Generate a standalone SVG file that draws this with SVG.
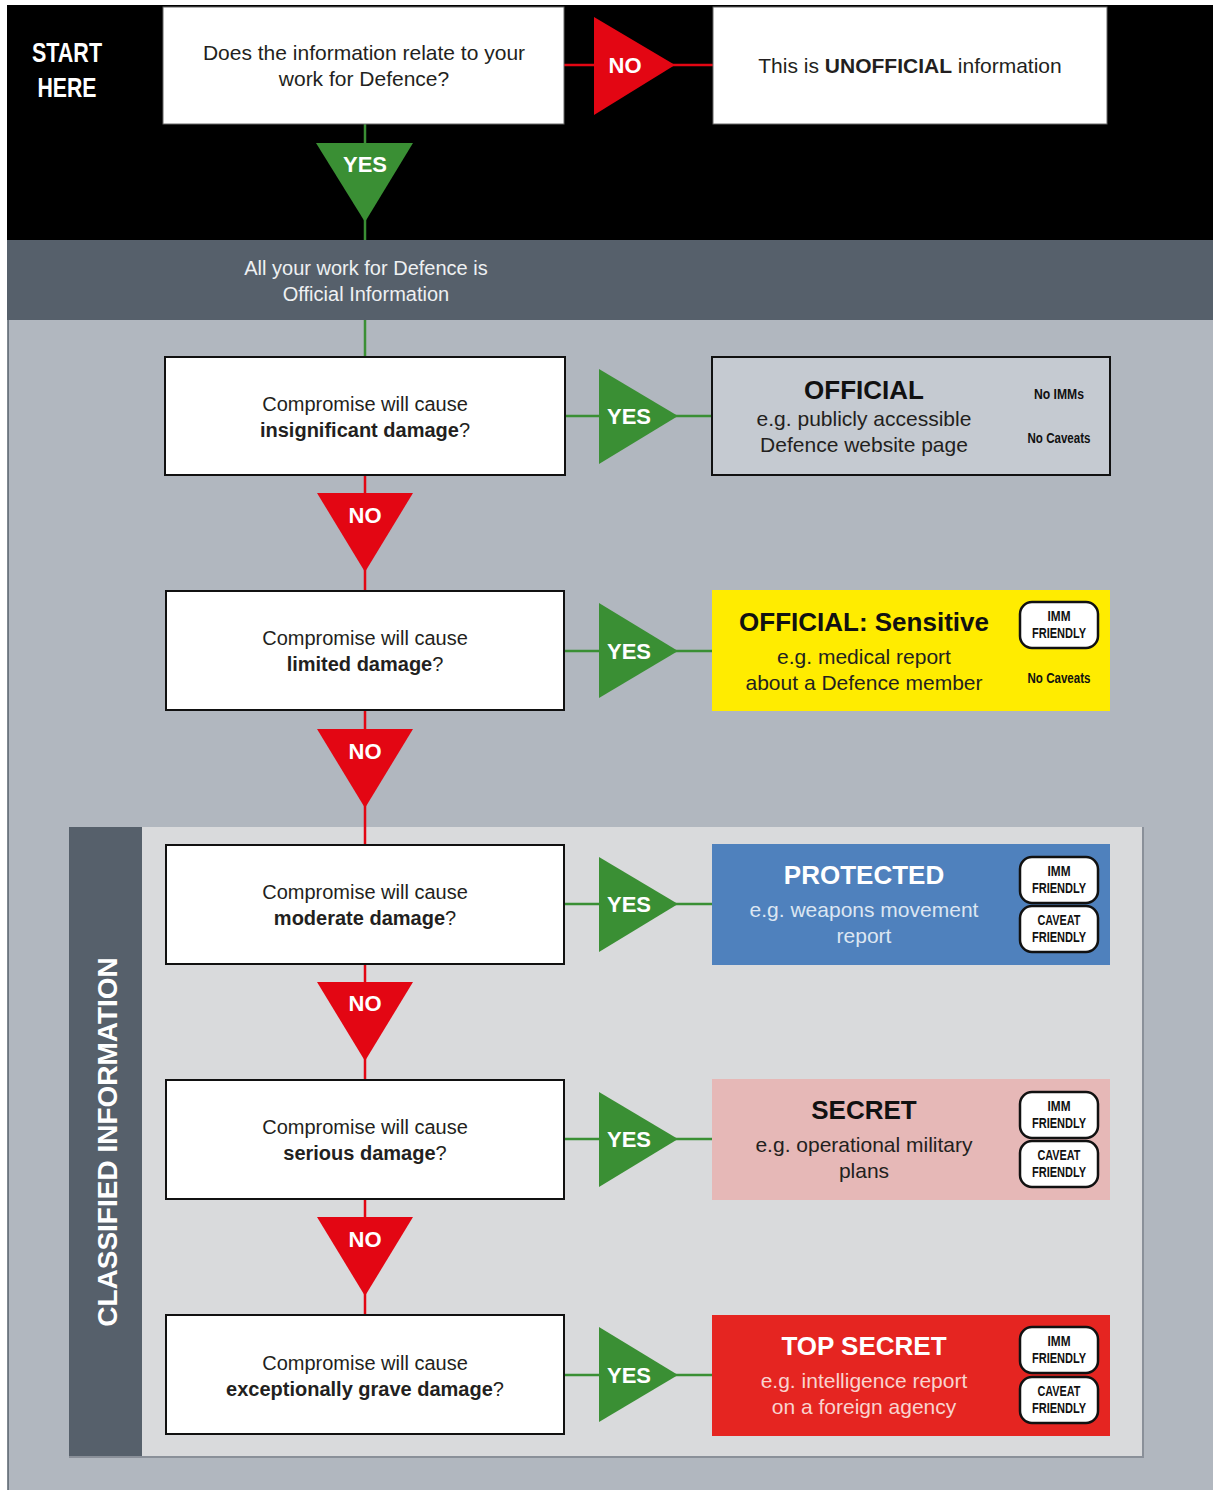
<svg xmlns="http://www.w3.org/2000/svg" width="1213" height="1490" viewBox="0 0 1213 1490">
<style>
.q{font-family:"Liberation Sans",Arial,sans-serif;font-size:20px;fill:#231f20;text-anchor:middle}
.b{font-weight:bold}
.lbl{font-family:"Liberation Sans",Arial,sans-serif;font-size:22px;font-weight:bold;fill:#fff;text-anchor:middle}
.title{font-family:"Liberation Sans",Arial,sans-serif;font-size:26px;font-weight:bold;text-anchor:middle}
.ex{font-family:"Liberation Sans",Arial,sans-serif;font-size:21px;text-anchor:middle}
.sm{font-family:"Liberation Sans",Arial,sans-serif;font-size:14px;font-weight:bold;fill:#111;text-anchor:middle}
.qbox{fill:#fff;stroke:#111;stroke-width:2}
.badge{fill:#fff;stroke:#111;stroke-width:2.5}
.yes{fill:#3a8f34}
.no{fill:#e30613}
.gl{stroke:#3a8f34;stroke-width:2.5;fill:none}
.rl{stroke:#e30613;stroke-width:2.5;fill:none}
</style>
<defs>
<g id="badgeImm">
<rect x="0" y="0" width="78" height="46" rx="12" class="badge"/>
<text x="39" y="19" class="sm" textLength="23" lengthAdjust="spacingAndGlyphs">IMM</text>
<text x="39" y="36" class="sm" textLength="54" lengthAdjust="spacingAndGlyphs">FRIENDLY</text>
</g>
<g id="badgeCav">
<rect x="0" y="0" width="78" height="46" rx="12" class="badge"/>
<text x="39" y="19" class="sm" textLength="43" lengthAdjust="spacingAndGlyphs">CAVEAT</text>
<text x="39" y="36" class="sm" textLength="54" lengthAdjust="spacingAndGlyphs">FRIENDLY</text>
</g>
</defs>
<!-- backgrounds -->
<rect x="0" y="0" width="1213" height="1490" fill="#fff"/>
<rect x="7" y="5" width="1206" height="235" fill="#000"/>
<rect x="7" y="240" width="1206" height="80" fill="#56606b"/>
<rect x="8" y="320" width="1205" height="1170" fill="#b1b7bf"/>
<line x1="8" y1="320" x2="8" y2="1490" stroke="#56606b" stroke-width="1.5"/>
<text x="366" y="275" style="font-family:'Liberation Sans',Arial,sans-serif;font-size:20px;fill:#eef0f2;text-anchor:middle">All your work for Defence is</text>
<text x="366" y="301" style="font-family:'Liberation Sans',Arial,sans-serif;font-size:20px;fill:#eef0f2;text-anchor:middle">Official Information</text>
<text x="67" y="62" textLength="70" lengthAdjust="spacingAndGlyphs" style="font-family:'Liberation Sans',Arial,sans-serif;font-size:28px;font-weight:bold;fill:#fff;text-anchor:middle">START</text>
<text x="67" y="97" textLength="59" lengthAdjust="spacingAndGlyphs" style="font-family:'Liberation Sans',Arial,sans-serif;font-size:28px;font-weight:bold;fill:#fff;text-anchor:middle">HERE</text>
<!-- classified frame -->
<g id="classified">
<rect x="69" y="827" width="1075" height="631" fill="#8a9099"/>
<rect x="69" y="827" width="1073" height="629" fill="#d9dadc"/>
<rect x="69" y="827" width="73" height="629" fill="#56606b"/>
<text transform="translate(117,1142) rotate(-90)" style="font-family:'Liberation Sans',Arial,sans-serif;font-size:28px;font-weight:bold;fill:#fff;text-anchor:middle">CLASSIFIED INFORMATION</text>
</g>
<!-- connectors -->
<g id="connectors">
<line x1="365" y1="124" x2="365" y2="240" class="gl"/>
<line x1="365" y1="320" x2="365" y2="357" class="gl"/>
<line x1="564" y1="65" x2="713" y2="65" class="rl"/>
<line x1="365" y1="475" x2="365" y2="591" class="rl"/>
<line x1="365" y1="710" x2="365" y2="845" class="rl"/>
<line x1="365" y1="964" x2="365" y2="1080" class="rl"/>
<line x1="365" y1="1199" x2="365" y2="1315" class="rl"/>
<line x1="565" y1="416" x2="712" y2="416" class="gl"/>
<line x1="564" y1="651" x2="712" y2="651" class="gl"/>
<line x1="564" y1="904" x2="712" y2="904" class="gl"/>
<line x1="564" y1="1139" x2="712" y2="1139" class="gl"/>
<line x1="564" y1="1375" x2="712" y2="1375" class="gl"/>
<polygon points="316,143 413,143 365,222" class="yes"/>
<text x="365" y="172" class="lbl">YES</text>
<polygon points="594,17 675,65 594,115" class="no"/>
<text x="625" y="73" class="lbl">NO</text>
<polygon points="599,369 678,416 599,464" class="yes"/>
<text x="629" y="424" class="lbl">YES</text>
<polygon points="317,493 413,493 365,572" class="no"/>
<text x="365" y="523" class="lbl">NO</text>
<polygon points="599,603 678,651 599,698" class="yes"/>
<text x="629" y="659" class="lbl">YES</text>
<polygon points="317,729 413,729 365,808" class="no"/>
<text x="365" y="759" class="lbl">NO</text>
<polygon points="599,857 678,904 599,952" class="yes"/>
<text x="629" y="912" class="lbl">YES</text>
<polygon points="317,982 413,982 365,1061" class="no"/>
<text x="365" y="1011" class="lbl">NO</text>
<polygon points="599,1092 678,1139 599,1187" class="yes"/>
<text x="629" y="1147" class="lbl">YES</text>
<polygon points="317,1217 413,1217 365,1296" class="no"/>
<text x="365" y="1247" class="lbl">NO</text>
<polygon points="599,1327 678,1375 599,1422" class="yes"/>
<text x="629" y="1383" class="lbl">YES</text>
</g>
<!-- nodes -->
<g id="q0">
<rect x="163" y="7" width="401" height="117" fill="#fff" stroke="#666" stroke-width="1"/>
<text x="364" y="60" class="q" style="font-size:21px">Does the information relate to your</text>
<text x="364" y="86" class="q" style="font-size:21px">work for Defence?</text>
</g>
<g id="unofficial">
<rect x="713" y="7" width="394" height="117" fill="#fff" stroke="#666" stroke-width="1"/>
<text x="910" y="73" class="q" style="font-size:21px">This is <tspan class="b">UNOFFICIAL</tspan> information</text>
</g>
<g id="q1">
<rect x="165" y="357" width="400" height="118" class="qbox"/>
<text x="365" y="411" class="q">Compromise will cause</text>
<text x="365" y="437" class="q"><tspan class="b">insignificant damage</tspan>?</text>
</g>
<g id="official">
<rect x="712" y="357" width="398" height="118" fill="#c5cad1" stroke="#111" stroke-width="2"/>
<text x="864" y="399" class="title" fill="#111">OFFICIAL</text>
<text x="864" y="426" class="ex" fill="#231f20">e.g. publicly accessible</text>
<text x="864" y="452" class="ex" fill="#231f20">Defence website page</text>
<text x="1059" y="399" class="sm" textLength="50" lengthAdjust="spacingAndGlyphs">No IMMs</text>
<text x="1059" y="443" class="sm" textLength="63" lengthAdjust="spacingAndGlyphs">No Caveats</text>
</g>
<g id="q2">
<rect x="166" y="591" width="398" height="119" class="qbox"/>
<text x="365" y="645" class="q">Compromise will cause</text>
<text x="365" y="671" class="q"><tspan class="b">limited damage</tspan>?</text>
</g>
<g id="officialSensitive">
<rect x="712" y="590" width="398" height="121" fill="#ffec00"/>
<text x="864" y="631" class="title" fill="#111">OFFICIAL: Sensitive</text>
<text x="864" y="664" class="ex" fill="#231f20">e.g. medical report</text>
<text x="864" y="690" class="ex" fill="#231f20">about a Defence member</text>
<use href="#badgeImm" x="1020" y="602"/>
<text x="1059" y="683" class="sm" textLength="63" lengthAdjust="spacingAndGlyphs">No Caveats</text>
</g>
<g id="q3">
<rect x="166" y="845" width="398" height="119" class="qbox"/>
<text x="365" y="899" class="q">Compromise will cause</text>
<text x="365" y="925" class="q"><tspan class="b">moderate damage</tspan>?</text>
</g>
<g id="protected">
<rect x="712" y="844" width="398" height="121" fill="#4f81bd"/>
<text x="864" y="884" class="title" fill="#fff">PROTECTED</text>
<text x="864" y="917" class="ex" fill="#dce6f2">e.g. weapons movement</text>
<text x="864" y="943" class="ex" fill="#dce6f2">report</text>
<use href="#badgeImm" x="1020" y="857"/>
<use href="#badgeCav" x="1020" y="906"/>
</g>
<g id="q4">
<rect x="166" y="1080" width="398" height="119" class="qbox"/>
<text x="365" y="1134" class="q">Compromise will cause</text>
<text x="365" y="1160" class="q"><tspan class="b">serious damage</tspan>?</text>
</g>
<g id="secret">
<rect x="712" y="1079" width="398" height="121" fill="#e6b8b7"/>
<text x="864" y="1119" class="title" fill="#111">SECRET</text>
<text x="864" y="1152" class="ex" fill="#231f20">e.g. operational military</text>
<text x="864" y="1178" class="ex" fill="#231f20">plans</text>
<use href="#badgeImm" x="1020" y="1092"/>
<use href="#badgeCav" x="1020" y="1141"/>
</g>
<g id="q5">
<rect x="166" y="1315" width="398" height="119" class="qbox"/>
<text x="365" y="1370" class="q">Compromise will cause</text>
<text x="365" y="1396" class="q"><tspan class="b">exceptionally grave damage</tspan>?</text>
</g>
<g id="topSecret">
<rect x="712" y="1315" width="398" height="121" fill="#e52521"/>
<text x="864" y="1355" class="title" fill="#fff">TOP SECRET</text>
<text x="864" y="1388" class="ex" fill="#f9d3cf">e.g. intelligence report</text>
<text x="864" y="1414" class="ex" fill="#f9d3cf">on a foreign agency</text>
<use href="#badgeImm" x="1020" y="1327"/>
<use href="#badgeCav" x="1020" y="1377"/>
</g>
</svg>
